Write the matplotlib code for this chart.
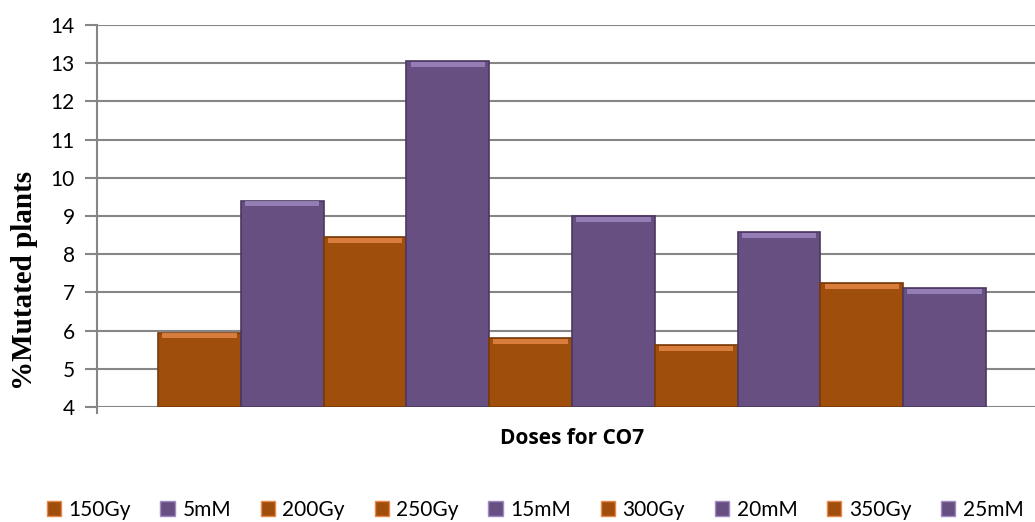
import matplotlib
matplotlib.use("Agg")
import matplotlib.pyplot as plt
from matplotlib.patches import Patch

# ---- data ----
bar_values = [5.95, 9.4, 8.45, 13.05, 5.8, 9.0, 5.62, 8.57, 7.25, 7.12]
bar_kinds = ["Gy", "mM", "Gy", "mM", "Gy", "mM", "Gy", "mM", "Gy", "mM"]
legend_labels = ["150Gy", "5mM", "200Gy", "250Gy", "15mM", "300Gy", "20mM", "350Gy", "25mM"]
legend_kinds = ["Gy", "mM", "Gy", "Gy", "mM", "Gy", "mM", "Gy", "mM"]
y_ticks = [4, 5, 6, 7, 8, 9, 10, 11, 12, 13, 14]
x_label = "Doses for CO7"
y_label = "%Mutated plants"

body = {"Gy": "#A04E0C", "mM": "#684F82"}
top = {"Gy": "#E8894A", "mM": "#A08BC2"}
edge = {"Gy": "#7A3A08", "mM": "#4A3860"}

fig = plt.figure(figsize=(10.35, 5.22), dpi=100)
ax = fig.add_axes([97/1035, 115/522, 938/1035, 382/522])

xs = list(range(len(bar_values)))
ax.bar(xs, [v - 4 for v in bar_values], bottom=4, width=1.0,
       color=[body[k] for k in bar_kinds], edgecolor=[edge[k] for k in bar_kinds],
       linewidth=1.2, zorder=3)
# bevel highlight strip at top of each bar
ax.bar(xs, [0.13] * len(xs), bottom=[v - 0.15 for v in bar_values], width=0.9,
       color=[top[k] for k in bar_kinds], linewidth=0, zorder=4, alpha=0.8)

ax.set_ylim(4, 14)
ax.set_xlim(-1.237, 10.092)
ax.set_yticks(y_ticks)
ax.set_xticks([])
ax.grid(axis="y", color="#868686", linewidth=1.5, zorder=0)
ax.set_axisbelow(True)
for s in ["top", "right", "bottom"]:
    ax.spines[s].set_visible(False)
ax.spines["left"].set_color("#868686")
ax.spines["left"].set_linewidth(1.5)
ax.spines["left"].set_bounds(3.85, 14)
ax.tick_params(axis="y", direction="out", length=9, width=1.5, color="#868686",
               labelsize=15, pad=7)
for t in ax.get_yticklabels():
    t.set_fontfamily("Lato")

ax.set_ylabel(y_label, fontfamily="Liberation Serif", fontweight="bold",
              fontsize=21, va="center")
ax.yaxis.set_label_coords(-0.077, 0.332)
fig.text(572/1035, 1 - 438/522, x_label, ha="center", va="center",
         fontfamily="Open Sans", fontweight="bold", fontsize=15)

handles = [Patch(facecolor=body[k], edgecolor=top[k], linewidth=1.0) for k in legend_kinds]
leg = fig.legend(handles, legend_labels, loc="center", bbox_to_anchor=(535/1035, 1 - 510/522),
                 ncol=9, frameon=False, handlelength=0.7, handleheight=0.7,
                 handletextpad=0.35, columnspacing=1.42,
                 prop={"family": "Lato", "size": 15})

fig.savefig("out.png", dpi=100)
